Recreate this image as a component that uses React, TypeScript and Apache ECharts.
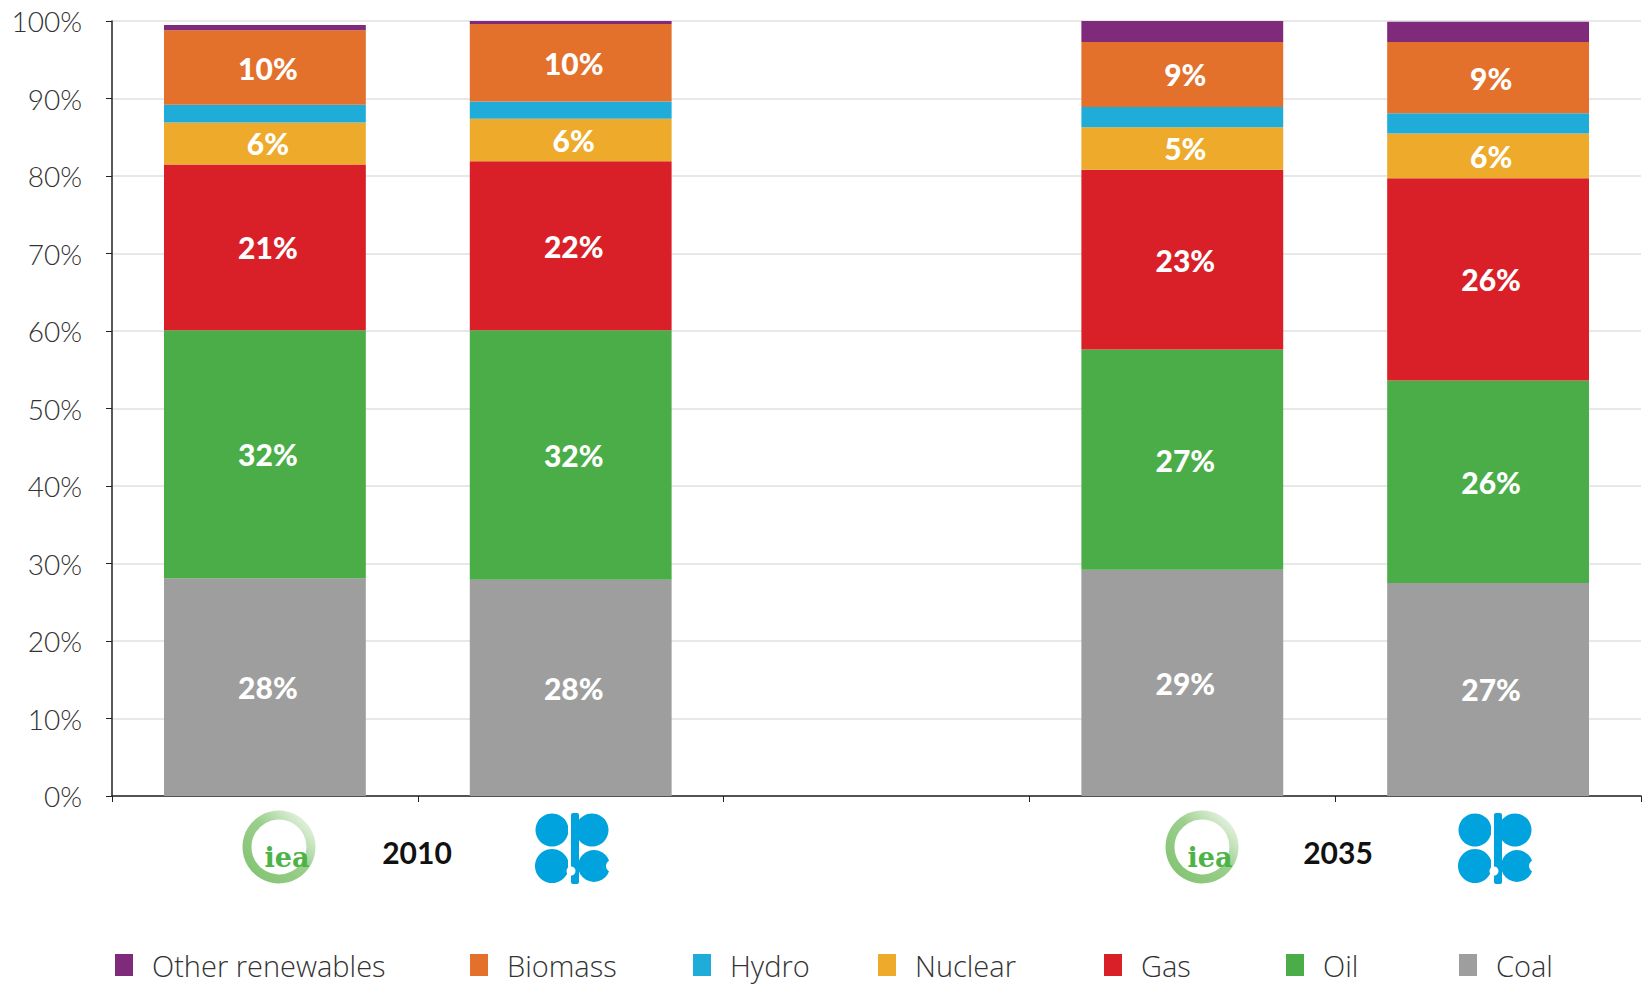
import React, { useEffect, useRef } from "react";
import * as echarts from "echarts";

const categories = ["IEA 2010", "OPEC 2010", "", "IEA 2035", "OPEC 2035"];
const yTicks = [0, 10, 20, 30, 40, 50, 60, 70, 80, 90, 100];

const coal = [28.1, 27.9, null, 29.2, 27.5];
const oil = [32.0, 32.2, null, 28.4, 26.1];
const gas = [21.4, 21.8, null, 23.2, 26.1];
const nuclear = [5.4, 5.5, null, 5.5, 5.8];
const hydro = [2.3, 2.2, null, 2.6, 2.6];
const biomass = [9.6, 10.0, null, 8.4, 9.2];
const otherRen = [0.7, 0.4, null, 3.0, 2.6];

const coalLabels = ["28%", "28%", "", "29%", "27%"];
const oilLabels = ["32%", "32%", "", "27%", "26%"];
const gasLabels = ["21%", "22%", "", "23%", "26%"];
const nuclearLabels = ["6%", "6%", "", "5%", "6%"];
const biomassLabels = ["10%", "10%", "", "9%", "9%"];

const years = ["2010", "2035"];

const seriesDefs = [
  { name: "Coal", data: coal, color: "#9d9e9d", labels: coalLabels },
  { name: "Oil", data: oil, color: "#4aad48", labels: oilLabels },
  { name: "Gas", data: gas, color: "#d91f28", labels: gasLabels },
  { name: "Nuclear", data: nuclear, color: "#eeaa2b", labels: nuclearLabels },
  { name: "Hydro", data: hydro, color: "#20acd9", labels: null },
  { name: "Biomass", data: biomass, color: "#e3702b", labels: biomassLabels },
  { name: "Other renewables", data: otherRen, color: "#7f2a7b", labels: null },
];

const legendOrder = ["Other renewables", "Biomass", "Hydro", "Nuclear", "Gas", "Oil", "Coal"];
const legendLeft = [115, 470, 693, 878, 1104, 1286, 1459];

function logoGroup(dx: number, year: string, yearX: number) {
  const opec = "#00a3dd";
  return {
    type: "group",
    x: dx,
    y: 0,
    children: [
      // IEA ring
      {
        type: "circle",
        shape: { cx: 279, cy: 847, r: 32 },
        style: {
          fill: "none",
          lineWidth: 9,
          stroke: {
            type: "linear",
            x: 0,
            y: 1,
            x2: 1,
            y2: 0,
            colorStops: [
              { offset: 0, color: "#80c270" },
              { offset: 0.55, color: "#9ccf8d" },
              { offset: 1, color: "#f3f9f0" },
            ],
          },
        },
      },
      {
        type: "text",
        x: 287,
        y: 857,
        style: {
          text: "iea",
          fill: "#4cb447",
          font: 'bold 27px "DejaVu Serif"',
          align: "center",
          verticalAlign: "middle",
        },
      },
      // OPEC logo
      { type: "circle", shape: { cx: 552, cy: 830, r: 16.5 }, style: { fill: opec } },
      { type: "circle", shape: { cx: 592, cy: 830, r: 16.5 }, style: { fill: opec } },
      { type: "circle", shape: { cx: 552, cy: 866, r: 17 }, style: { fill: opec } },
      { type: "circle", shape: { cx: 594, cy: 866, r: 16 }, style: { fill: opec } },
      { type: "rect", shape: { x: 571, y: 813, width: 8, height: 71, r: 2 }, style: { fill: opec } },
      { type: "circle", shape: { cx: 571, cy: 871, r: 4.5 }, style: { fill: "#ffffff" } },
      { type: "rect", shape: { x: 567, y: 869, width: 4, height: 16 }, style: { fill: "#ffffff" } },
      { type: "circle", shape: { cx: 612, cy: 866, r: 6 }, style: { fill: "#ffffff" } },
      { type: "rect", shape: { x: 568, y: 813, width: 3, height: 71 }, style: { fill: "#ffffff" } },
      // year
      {
        type: "text",
        x: yearX,
        y: 852,
        style: {
          text: year,
          fill: "#111111",
          font: 'bold 30px "Lato"',
          align: "center",
          verticalAlign: "middle",
        },
      },
    ],
  };
}

export default function App() {
  const ref = useRef<HTMLDivElement>(null);
  useEffect(() => {
    if (!ref.current) return;
    const chart = echarts.init(ref.current, null, { renderer: "svg" });
    const option: any = {
      animation: false,
      backgroundColor: "#ffffff",
      grid: { left: 112, right: 3, top: 21, bottom: 190, containLabel: false },
      legend: legendOrder.map((name, i) => ({
        data: [name],
        left: legendLeft[i],
        top: 949,
        icon: "rect",
        itemWidth: 18,
        itemHeight: 22,
        padding: 0,
        selectedMode: false,
        textStyle: {
          fontFamily: "Open Sans",
          fontWeight: 300,
          fontSize: 29,
          lineHeight: 32,
          color: "#333333",
          padding: [0, 0, 0, 14],
        },
      })),
      xAxis: {
        type: "category",
        data: categories,
        axisLine: { lineStyle: { color: "#222222", width: 1.5 } },
        axisTick: { show: true, length: 6, lineStyle: { color: "#222222" }, interval: 0 },
        axisLabel: { show: false },
        splitLine: { show: false },
      },
      yAxis: {
        type: "value",
        min: yTicks[0],
        max: yTicks[yTicks.length - 1],
        interval: 10,
        axisLine: { show: true, lineStyle: { color: "#222222", width: 1.5 } },
        axisTick: { show: true, length: 6, lineStyle: { color: "#222222" } },
        axisLabel: {
          formatter: (v: number) => v + "%",
          fontFamily: "Lato",
          fontWeight: 300,
          fontSize: 28,
          color: "#333333",
          margin: 30,
        },
        splitLine: { show: true, lineStyle: { color: "#e8e8e8", width: 2 } },
      },
      series: seriesDefs.map((s) => ({
        name: s.name,
        type: "bar",
        stack: "total",
        barWidth: "66%",
        data: s.data.map((v) => (v == null ? "-" : v)),
        itemStyle: { color: s.color },
        label: {
          show: !!s.labels,
          position: "inside",
          offset: [3, 0],
          color: "#ffffff",
          fontFamily: "Lato",
          fontWeight: 900,
          fontSize: 30,
          formatter: (p: any) => (s.labels ? s.labels[p.dataIndex] : ""),
        },
      })),
      graphic: [logoGroup(0, years[0], 417), logoGroup(923, years[1], 415)],
    };
    chart.setOption(option);
    return () => chart.dispose();
  }, []);
  return <div ref={ref} style={{ width: 1644, height: 986, position: "absolute", left: 0, top: 0 }} />;
}
